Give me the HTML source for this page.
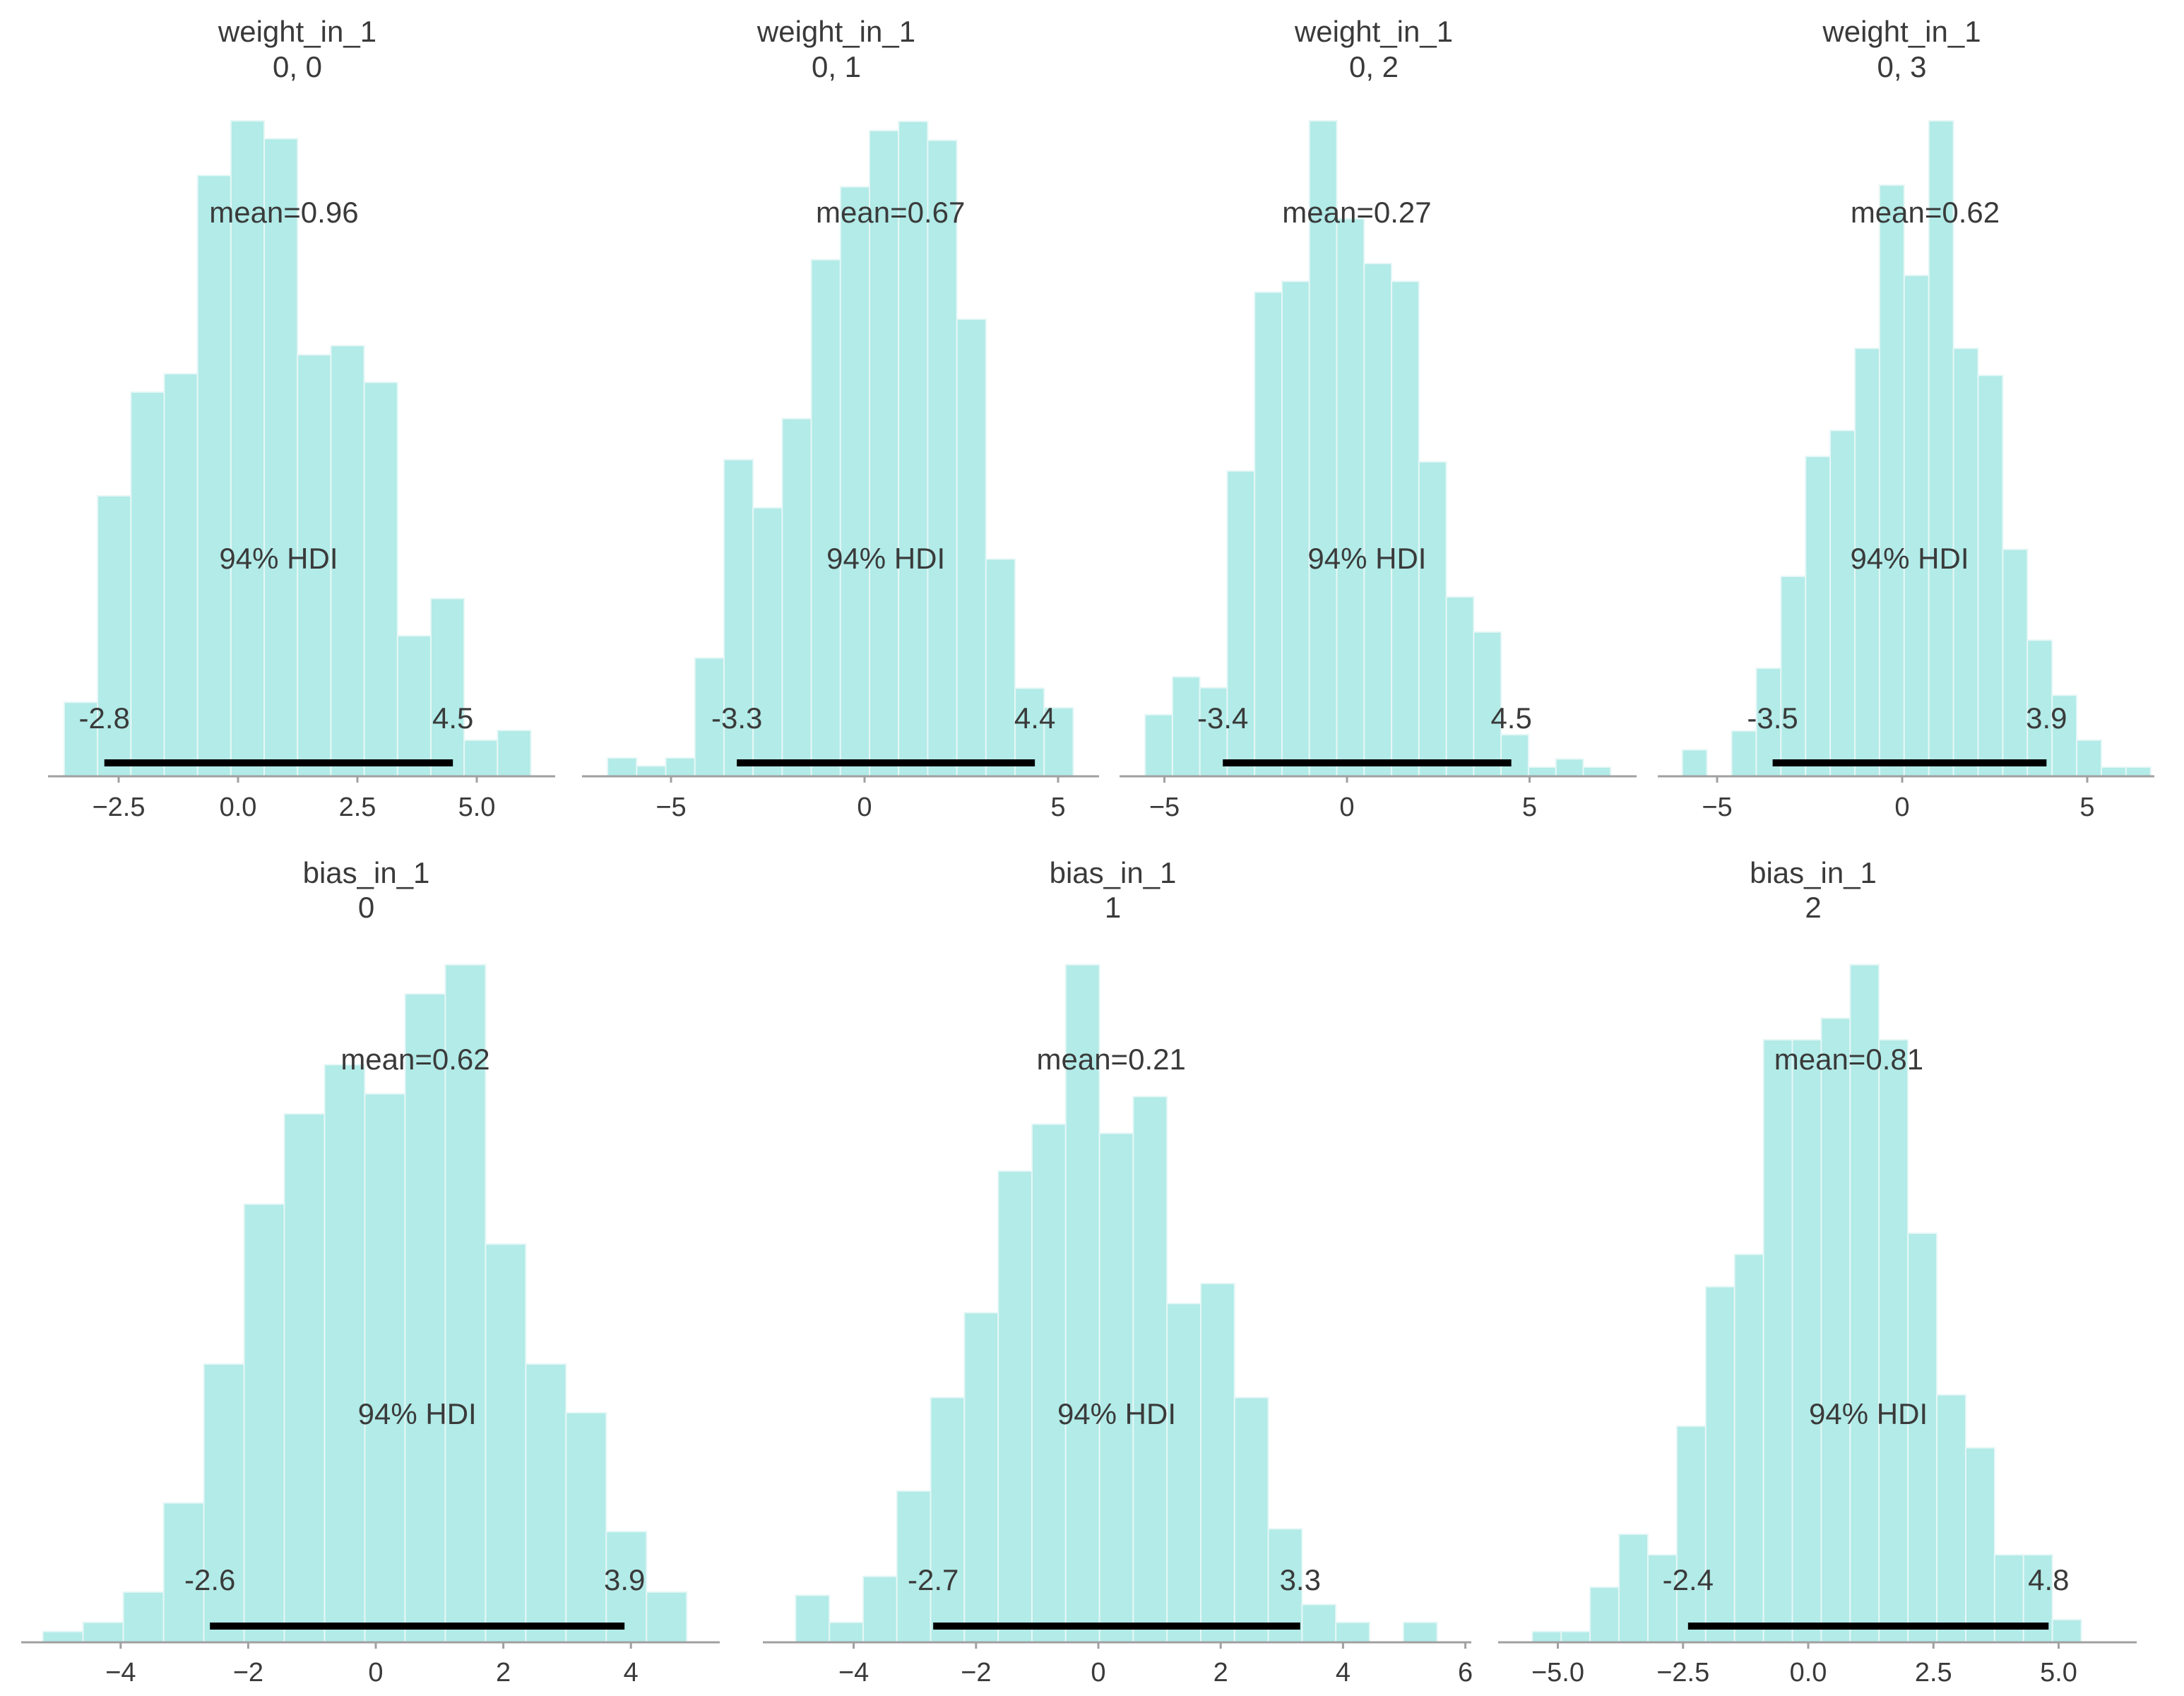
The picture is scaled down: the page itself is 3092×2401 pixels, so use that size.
<!DOCTYPE html>
<html><head><meta charset="utf-8"><style>
html,body{margin:0;padding:0;background:#fff;}
svg{display:block;}
text{font-family:"Liberation Sans",sans-serif;fill:#3a3a3a;}
</style></head><body>
<svg id="chart" width="3092" height="2401" viewBox="0 0 3092 2401" xmlns="http://www.w3.org/2000/svg"></svg>
<script>
const titles = ["weight_in_1","weight_in_1","weight_in_1","weight_in_1","bias_in_1","bias_in_1","bias_in_1"];
const subtitles = ["0, 0","0, 1","0, 2","0, 3","0","1","2"];
const binStarts = [-3.64,-6.64,-5.53,-5.94,-5.22,-4.95,-5.51];
const binWidths = [0.698,0.752,0.75,0.666,0.631,0.552,0.577];
const counts0 = [137,519,711,745,1112,1213,1180,780,797,729,260,329,67,85];
const counts1 = [34,19,34,219,586,497,662,956,1091,1195,1212,1177,846,402,163,127];
const counts2 = [114,184,164,565,896,916,1213,1032,949,916,582,332,267,77,17,32,17];
const counts3 = [49,0,84,200,370,592,640,792,1094,927,1213,792,742,420,252,150,67,17,17];
const counts4 = [20,37,93,258,515,811,978,1069,1015,1200,1254,737,515,425,205,93];
const counts5 = [87,37,122,280,453,610,872,959,1254,942,1010,627,664,453,210,70,37,0,37];
const counts6 = [20,20,102,200,162,400,658,718,1115,1115,1155,1254,1115,757,458,360,162,162,42];
const allCounts = [counts0,counts1,counts2,counts3,counts4,counts5,counts6];
const means = [0.96,0.67,0.27,0.62,0.62,0.21,0.81];
const hdiLow = [-2.8,-3.3,-3.4,-3.5,-2.6,-2.7,-2.4];
const hdiHigh = [4.5,4.4,4.5,3.9,3.9,3.3,4.8];
const tickValues = [[-2.5,0,2.5,5],[-5,0,5],[-5,0,5],[-5,0,5],[-4,-2,0,2,4],[-4,-2,0,2,4,6],[-5,-2.5,0,2.5,5]];
const tickLabels = [["−2.5","0.0","2.5","5.0"],["−5","0","5"],["−5","0","5"],["−5","0","5"],["−4","−2","0","2","4"],["−4","−2","0","2","4","6"],["−5.0","−2.5","0.0","2.5","5.0"]];

const layout = [
  {zero:337,ppu:67.6,ax0:68,ax1:786,base:1099,row:0},
  {zero:1224,ppu:54.8,ax0:824,ax1:1556,base:1099,row:0},
  {zero:1907,ppu:51.7,ax0:1585,ax1:2317,base:1099,row:0},
  {zero:2693,ppu:52.4,ax0:2347,ax1:3050,base:1099,row:0},
  {zero:532,ppu:90.3,ax0:30,ax1:1019,base:2325,row:1},
  {zero:1555,ppu:86.6,ax0:1080,ax1:2083,base:2325,row:1},
  {zero:2560,ppu:70.9,ax0:2121,ax1:3025,base:2325,row:1}
];
const rowText = [
  {t1:48,t2:98,mean:304,hdi:794,lab:1020,line:1080,tick:1145},
  {t1:1239,t2:1288,mean:1503,hdi:2005,lab:2240,line:2302,tick:2370}
];
const YS = 0.765;
const NS = "http://www.w3.org/2000/svg";
const svg = document.getElementById('chart');
function mk(tag, attrs, parent){
  const e = document.createElementNS(NS, tag);
  for (const k in attrs) e.setAttribute(k, attrs[k]);
  parent.appendChild(e);
  return e;
}
for (let p = 0; p < 7; p++) {
  const L = layout[p], R = rowText[L.row];
  const X = v => L.zero + v * L.ppu;
  const Y = c => L.base - c * YS;
  const g = mk('g', {}, svg);
  
  
  const cx = (L.ax0 + L.ax1) / 2 - 6;
  const t1 = mk('text', {x:cx, y:R.t1, 'font-size':42, 'text-anchor':'middle', 'dominant-baseline':'middle'}, g);
  t1.textContent = titles[p];
  
  
  const t2 = mk('text', {x:cx, y:R.t2, 'font-size':42, 'text-anchor':'middle', 'dominant-baseline':'middle'}, g);
  t2.textContent = subtitles[p];
  
  
  const cs = allCounts[p];
  for (let i = 0; i < cs.length; i++) {
    if (cs[i] <= 0) continue;
    const a = X(binStarts[p] + i * binWidths[p]), b = X(binStarts[p] + (i+1) * binWidths[p]);
    const r = mk('rect', {x:a, y:Y(cs[i]), width:b-a, height:cs[i]*YS, fill:'#b2ebe8', stroke:'#e6f7f6', 'stroke-width':2}, g);
    
    
  }
  const ax = mk('line', {x1:L.ax0, x2:L.ax1, y1:L.base, y2:L.base, stroke:'#a0a0a0', 'stroke-width':3}, g);
  
  
  tickValues[p].forEach((v, i) => {
    const tk = mk('line', {x1:X(v), x2:X(v), y1:L.base, y2:L.base+9, stroke:'#a0a0a0', 'stroke-width':3}, g);
    
    
    const tl = mk('text', {x:X(v), y:R.tick, 'font-size':38, 'text-anchor':'middle', 'dominant-baseline':'middle'}, g);
    tl.textContent = tickLabels[p][i];
    
    
  });
  const hl = mk('line', {x1:X(hdiLow[p]), x2:X(hdiHigh[p]), y1:R.line, y2:R.line, stroke:'#000', 'stroke-width':10}, g);
  
  
  const lo = mk('text', {x:X(hdiLow[p]), y:R.lab, 'font-size':42, 'text-anchor':'middle', 'dominant-baseline':'middle'}, g);
  lo.textContent = hdiLow[p].toFixed(1);
  
  
  const hi = mk('text', {x:X(hdiHigh[p]), y:R.lab, 'font-size':42, 'text-anchor':'middle', 'dominant-baseline':'middle'}, g);
  hi.textContent = hdiHigh[p].toFixed(1);
  
  
  const hd = mk('text', {x:X((hdiLow[p]+hdiHigh[p])/2), y:R.hdi, 'font-size':42, 'text-anchor':'middle', 'dominant-baseline':'middle'}, g);
  hd.textContent = '94% HDI';
  
  
  const mn = mk('text', {x:X(means[p]), y:R.mean, 'font-size':42, 'text-anchor':'middle', 'dominant-baseline':'middle'}, g);
  mn.textContent = 'mean=' + means[p].toFixed(2);
  
  
}
</script>
</body></html>
